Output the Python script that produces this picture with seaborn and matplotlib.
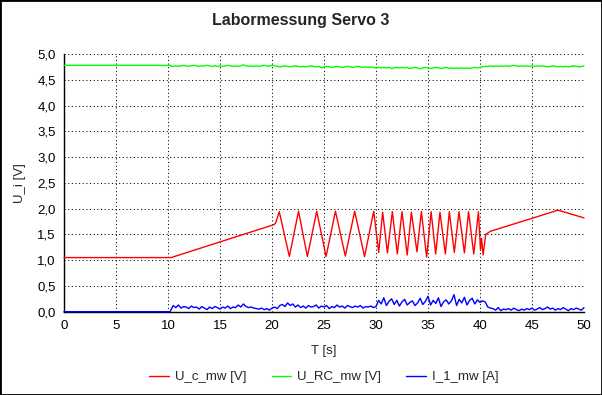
import numpy as np
import pandas as pd
import seaborn as sns
import matplotlib.pyplot as plt
from matplotlib.ticker import FuncFormatter, MultipleLocator

# --- data ---
# U_c_mw: vertices of the servo command signal
uc_t = [0, 10.3, 20.2, 20.35, 20.7, 21.67, 22.55, 23.4, 24.3, 25.2, 26.1, 27.05,
        27.95, 28.9, 29.78, 30.26, 30.64, 31.1, 31.57, 32.05, 32.5, 33.0, 33.4,
        33.94, 34.36, 34.87, 35.3, 35.74, 36.15, 36.67, 37.05, 37.53, 37.98,
        38.5, 38.9, 39.4, 39.85, 40.05, 40.15, 40.3, 40.55, 41.0, 47.5, 50.0]
uc_v = [1.05, 1.05, 1.69, 1.72, 1.94, 1.07, 1.95, 1.07, 1.95, 1.07, 1.95, 1.08,
        1.95, 1.07, 1.95, 1.15, 1.93, 1.14, 1.94, 1.12, 1.94, 1.10, 1.93,
        1.16, 1.94, 1.06, 1.94, 1.12, 1.93, 1.12, 1.94, 1.15, 1.94,
        1.14, 1.94, 1.12, 1.94, 1.20, 1.42, 1.10, 1.50, 1.56, 1.97, 1.82]

# sampled signals: flat start, then readings every 0.25 s from 10.25 s to 50 s
start_t = [0, 10.2]
sample_t = list(np.arange(10.25, 50.01, 0.25))

urc_start = [4.78, 4.78]
urc_v = [
    4.77, 4.76, 4.77, 4.76, 4.77, 4.78, 4.77, 4.76, 4.77, 4.78,
    4.77, 4.76, 4.77, 4.77, 4.78, 4.77, 4.76, 4.77, 4.76, 4.77,
    4.76, 4.77, 4.78, 4.77, 4.76, 4.77, 4.76, 4.77, 4.79, 4.77,
    4.76, 4.77, 4.76, 4.77, 4.76, 4.77, 4.78, 4.77, 4.76, 4.78,
    4.77, 4.76, 4.75, 4.76, 4.77, 4.76, 4.75, 4.76, 4.77, 4.76,
    4.75, 4.76, 4.75, 4.76, 4.77, 4.76, 4.75, 4.76, 4.73, 4.75,
    4.76, 4.75, 4.74, 4.75, 4.76, 4.75, 4.74, 4.75, 4.76, 4.75,
    4.74, 4.75, 4.76, 4.75, 4.74, 4.75, 4.74, 4.75, 4.74, 4.73,
    4.74, 4.73, 4.74, 4.73, 4.74, 4.72, 4.73, 4.74, 4.73, 4.74,
    4.73, 4.74, 4.72, 4.73, 4.74, 4.73, 4.71, 4.73, 4.74, 4.73,
    4.72, 4.73, 4.74, 4.73, 4.72, 4.73, 4.74, 4.72, 4.73, 4.72,
    4.73, 4.72, 4.73, 4.72, 4.73, 4.72, 4.73, 4.74, 4.73, 4.74,
    4.75, 4.76, 4.76, 4.77, 4.76, 4.77, 4.76, 4.77, 4.76, 4.77,
    4.76, 4.77, 4.78, 4.77, 4.76, 4.77, 4.76, 4.77, 4.76, 4.77,
    4.76, 4.77, 4.76, 4.77, 4.76, 4.75, 4.76, 4.77, 4.76, 4.75,
    4.76, 4.75, 4.76, 4.75, 4.76, 4.77, 4.76, 4.75, 4.76, 4.77,
]

i1_start = [0.0, 0.0]
i1_v = [
    0.02, 0.12, 0.08, 0.13, 0.07, 0.10, 0.09, 0.06, 0.11, 0.08,
    0.09, 0.05, 0.10, 0.07, 0.04, 0.09, 0.06, 0.10, 0.08, 0.05,
    0.09, 0.07, 0.11, 0.06, 0.09, 0.08, 0.13, 0.09, 0.15, 0.10,
    0.08, 0.09, 0.07, 0.06, 0.05, 0.07, 0.04, 0.06, 0.03, 0.07,
    0.09, 0.06, 0.12, 0.14, 0.10, 0.17, 0.12, 0.15, 0.09, 0.13,
    0.08, 0.11, 0.07, 0.12, 0.09, 0.10, 0.13, 0.07, 0.11, 0.09,
    0.12, 0.06, 0.10, 0.08, 0.13, 0.09, 0.11, 0.07, 0.12, 0.10,
    0.08, 0.11, 0.09, 0.12, 0.07, 0.10, 0.09, 0.11, 0.08, 0.10,
    0.22, 0.15, 0.27, 0.12, 0.20, 0.25, 0.14, 0.22, 0.11, 0.19,
    0.24, 0.13, 0.18, 0.21, 0.12, 0.17, 0.26, 0.14, 0.20, 0.30,
    0.13, 0.22, 0.16, 0.27, 0.10, 0.19, 0.23, 0.15, 0.21, 0.33,
    0.12, 0.24, 0.17, 0.28, 0.13, 0.22, 0.26, 0.15, 0.23, 0.18,
    0.21, 0.19, 0.09, 0.07, 0.06, 0.03, 0.08, 0.02, 0.05, 0.04,
    0.06, 0.03, 0.07, 0.04, 0.02, 0.05, 0.03, 0.06, 0.04, 0.07,
    0.03, 0.05, 0.08, 0.04, 0.06, 0.09, 0.05, 0.07, 0.03, 0.06,
    0.04, 0.08, 0.05, 0.02, 0.06, 0.04, 0.07, 0.05, 0.03, 0.08,
]

labels = ["U_c_mw [V]", "U_RC_mw [V]", "I_1_mw [A]"]
colors = ["#ff0000", "#00ff00", "#0000ff"]

# --- plot ---
sns.set_style("white")
plt.rcParams["font.family"] = ["Liberation Sans", "DejaVu Sans"]

fig = plt.figure(figsize=(6.02, 3.95), dpi=100)
ax = fig.add_axes([64 / 602, 1 - 311.7 / 395, 520 / 602, 257.7 / 395])

series = [
    (uc_t, uc_v),
    (start_t + sample_t, urc_start + urc_v),
    (start_t + sample_t, i1_start + i1_v),
]
for (t, v), lab, col in zip(series, labels, colors):
    df = pd.DataFrame({"t": t, "v": v})
    sns.lineplot(data=df, x="t", y="v", color=col, lw=1, label=lab, ax=ax,
                 sort=False, estimator=None, zorder=3, clip_on=False)

ax.set_xlim(0, 50)
ax.set_ylim(0, 5)
ax.xaxis.set_major_locator(MultipleLocator(5))
ax.yaxis.set_major_locator(MultipleLocator(0.5))
ax.yaxis.set_major_formatter(FuncFormatter(lambda v, p: f"{v:.1f}".replace(".", ",")))
ax.grid(True, color="black", lw=0.75, linestyle=(0, (1, 2.5)))
for s in ["top", "right"]:
    ax.spines[s].set_visible(False)
for s in ["left", "bottom"]:
    ax.spines[s].set_color("black")
    ax.spines[s].set_linewidth(1)
ax.tick_params(direction="out", length=4, width=1, colors="black", labelsize=9.5, pad=2)

ax.set_xlabel("T [s]", fontsize=9.5, labelpad=9)
ax.set_ylabel("U_i [V]", fontsize=9.5, labelpad=8)
fig.text(0.5, 1 - 20 / 395, "Labormessung Servo 3", ha="center", va="center",
         fontsize=11.5, fontweight="bold")

ax.legend(loc="center", bbox_to_anchor=(0.5, (311.7 - 377) / 257.7), ncol=3,
          frameon=False, fontsize=9.5, handlelength=1.5, columnspacing=1.9,
          handletextpad=0.45)

fig.patches.append(plt.Rectangle((0, 0), 1, 1, transform=fig.transFigure,
                                 fill=False, ec="black", lw=2))

fig.savefig("out.png", dpi=100)
